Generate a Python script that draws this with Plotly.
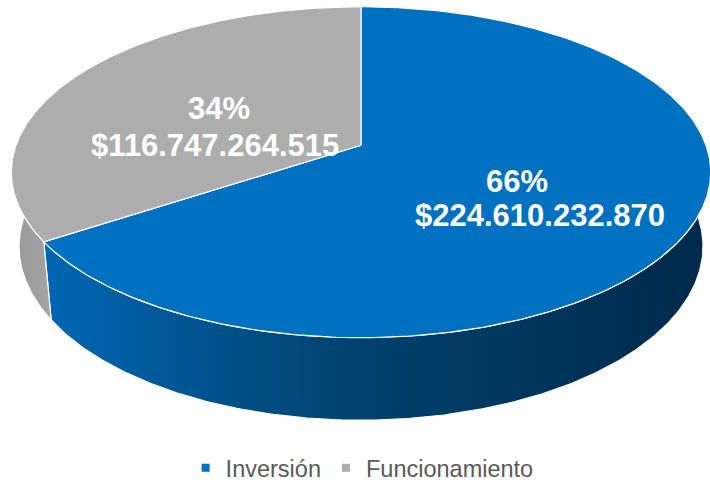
import numpy as np
import plotly.graph_objects as go

# datos del gráfico
categorias = ["Inversión", "Funcionamiento"]
valores = [224610232870, 116747264515]

# estilos
colores_cara = ["#0070C0", "#ADADAD"]
colores_pared = [
    [[0, "#0066B4"], [0.45, "#00436F"], [1, "#00294A"]],
    [[0, "#989898"], [1, "#A4A4A4"]],
]
FUENTE = "Arial, Liberation Sans, sans-serif"

# geometría de la torta 3D (proyección en perspectiva, unidades en píxeles)
CX, CY, R = 361, 147, 345
TILT = np.radians(28.2)
DIST = 5.4
DEPTH = 0.25

# posiciones de las etiquetas (centro de cada línea)
pos_pct = [(517, 184), (219, 110)]
pos_val = [(540, 218), (215, 147)]


def proyectar(theta, z=0.0):
    X, Y = np.cos(theta), np.sin(theta)
    u = z * np.cos(TILT) + Y * np.sin(TILT)
    d = Y * np.cos(TILT) - z * np.sin(TILT)
    s = DIST / (DIST + d)
    return CX + R * X * s, CY - R * u * s


def tramo_visible(lo, hi):
    # parte del borde que mira al observador: ángulos entre -180 y 0 grados
    for k in (-1, 0, 1):
        a, b = max(lo, -np.pi + 2 * np.pi * k), min(hi, 2 * np.pi * k)
        if b > a:
            return a, b
    return None


total = sum(valores)
fracs = [v / total for v in valores]
inicio = np.pi / 2
rangos = []
for f in fracs:
    fin = inicio - f * 2 * np.pi
    rangos.append((fin, inicio))
    inicio = fin

fig = go.Figure()

# paredes laterales
for (lo, hi), escala in zip(rangos, colores_pared):
    tramo = tramo_visible(lo, hi)
    if tramo is None:
        continue
    t = np.linspace(tramo[0], tramo[1], 240)
    xs_top, ys_top = proyectar(t, 0.0)
    xs_bot, ys_bot = proyectar(t[::-1], -DEPTH)
    fig.add_trace(go.Scatter(
        x=np.concatenate([xs_top, xs_bot, xs_top[:1]]),
        y=np.concatenate([ys_top, ys_bot, ys_top[:1]]),
        mode="lines", fill="toself",
        fillgradient=dict(type="horizontal", colorscale=escala),
        line=dict(color="white", width=1.2),
        hoverinfo="skip", showlegend=False,
    ))

# caras superiores
for (lo, hi), color, cat, v, f in zip(rangos, colores_cara, categorias, valores, fracs):
    t = np.linspace(hi, lo, 400)
    xs, ys = proyectar(t, 0.0)
    fig.add_trace(go.Scatter(
        x=np.concatenate([[CX], xs, [CX]]),
        y=np.concatenate([[CY], ys, [CY]]),
        mode="lines", fill="toself", fillcolor=color,
        line=dict(color="white", width=1.2),
        name=cat, text=f"{cat}: {f:.0%}", hoverinfo="text",
        showlegend=False,
    ))

# leyenda
for cat, color in zip(categorias, colores_cara):
    fig.add_trace(go.Scatter(
        x=[None], y=[None], mode="markers", name=cat,
        marker=dict(symbol="square", size=8, color=color),
    ))

# etiquetas
for v, f, p1, p2 in zip(valores, fracs, pos_pct, pos_val):
    for texto, (x, y) in ((f"{f:.0%}", p1), ("$" + f"{v:,}".replace(",", "."), p2)):
        fig.add_annotation(
            x=x, y=y, text=texto, showarrow=False,
            font=dict(family=FUENTE, size=31, color="white", weight="bold"),
            xanchor="center", yanchor="middle",
        )

fig.update_layout(
    width=710, height=490,
    margin=dict(l=0, r=0, t=0, b=0),
    paper_bgcolor="white", plot_bgcolor="white",
    xaxis=dict(range=[0, 710], visible=False, fixedrange=True),
    yaxis=dict(range=[490, 0], visible=False, fixedrange=True),
    showlegend=True,
    legend=dict(
        orientation="h", x=0.51, xanchor="center",
        y=(490 - 474) / 490, yanchor="middle",
        font=dict(family=FUENTE, size=23.5, color="#595959"),
        itemwidth=30, bgcolor="rgba(0,0,0,0)",
    ),
)

fig.write_html(
    "out.html",
    config={"displayModeBar": False},
    post_script="document.body.style.margin='0';",
)
